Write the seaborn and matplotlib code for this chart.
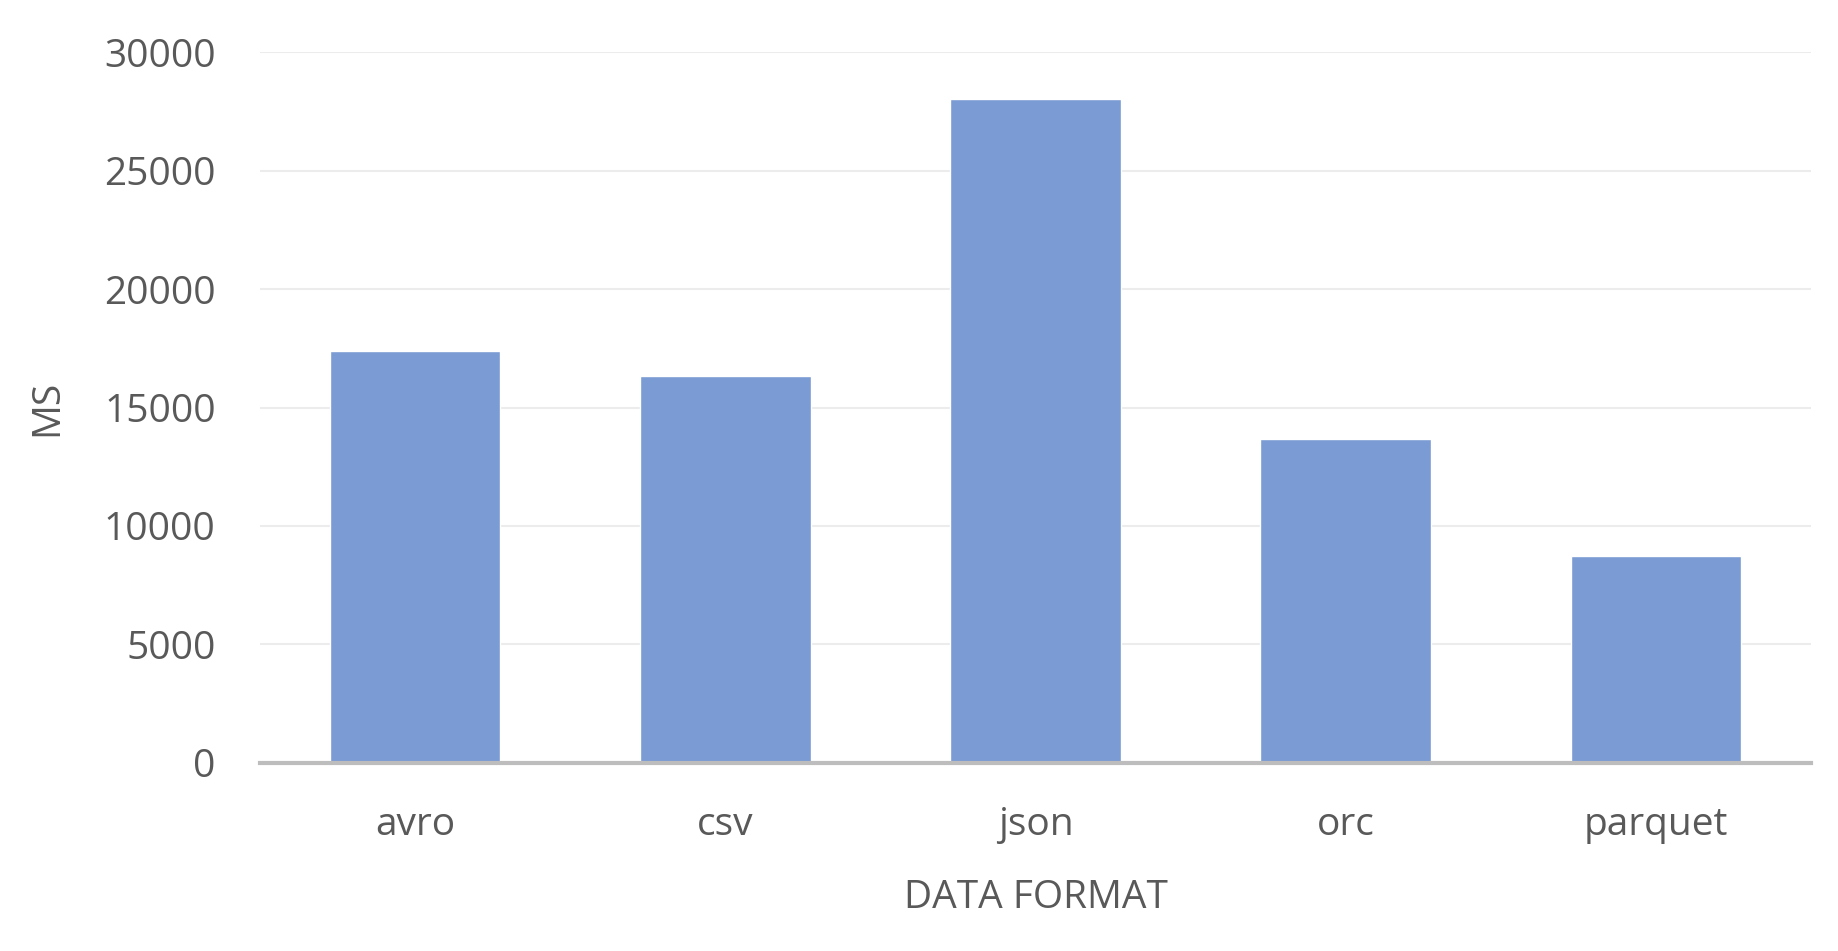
import matplotlib
matplotlib.use("Agg")
import matplotlib.pyplot as plt
import seaborn as sns
import pandas as pd

categories = ["avro", "csv", "json", "orc", "parquet"]
values = [17400, 16350, 28000, 13650, 8750]
y_ticks = [0, 5000, 10000, 15000, 20000, 25000, 30000]

df = pd.DataFrame({"format": categories, "ms": values})

sns.set_theme(style="white")
plt.rcParams["font.family"] = ["Open Sans", "DejaVu Sans"]

fig = plt.figure(figsize=(18.38, 9.51), dpi=100)
ax = fig.add_axes([0.1415, 0.1977, 0.8438, 0.7476])

sns.barplot(data=df, x="format", y="ms", color="#7a9bd3", saturation=1,
            width=0.55, ax=ax, zorder=2)

ax.set_ylim(0, 30000)
ax.set_yticks(y_ticks)
ax.set_yticklabels([str(t) for t in y_ticks])
ax.grid(axis="y", color="#ececec", linewidth=1.5, zorder=0)
ax.set_axisbelow(True)
for s in ["top", "right", "left"]:
    ax.spines[s].set_visible(False)
ax.spines["bottom"].set_color("#bdbdbd")
ax.spines["bottom"].set_linewidth(3)
ax.spines["bottom"].set_zorder(3)

fs = 28
ax.tick_params(axis="y", length=0, pad=32, labelsize=fs, labelcolor="#595959")
ax.tick_params(axis="x", length=0, pad=31, labelsize=fs, labelcolor="#595959")

ax.set_xlabel("DATA FORMAT", fontsize=fs, color="#595959", labelpad=25)
ax.set_ylabel("MS", fontsize=fs, color="#595959", labelpad=27)

fig.savefig("out.png", dpi=100, facecolor="white")
